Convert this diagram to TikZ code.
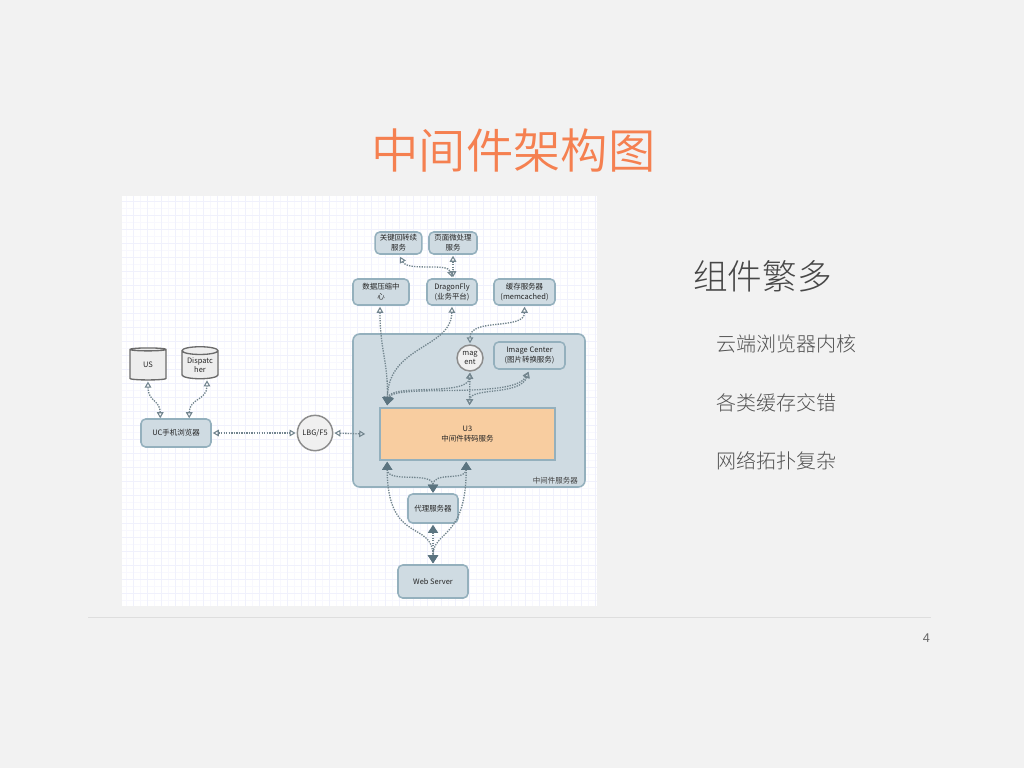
\documentclass[tikz,border=0pt]{standalone}
\usepackage{fontspec}
\setmainfont{Noto Sans CJK SC}
\newfontfamily\lightcjk{Noto Sans CJK SC Light}
\newfontfamily\demicjk{Noto Sans CJK SC DemiLight}
\newfontfamily\latinui{Liberation Sans}
\usetikzlibrary{arrows.meta,calc,shapes.geometric}
\definecolor{pagebg}{HTML}{F2F2F2}
\definecolor{titleorange}{HTML}{F58050}
\definecolor{gridc}{HTML}{F8F8FE}
\definecolor{gridm}{HTML}{F0F1FC}
\definecolor{boxfill}{HTML}{CFDBE2}
\definecolor{boxline}{HTML}{94B0BD}
\definecolor{peach}{HTML}{F8CDA0}
\definecolor{linkc}{HTML}{72858E}
\definecolor{tipc}{HTML}{5B7480}
\tikzset{
 x=0.75pt,y=-0.75pt,
 svcbox/.style={draw=boxline,fill=boxfill,line width=1.15pt,rounded corners=3.5pt,inner sep=0pt,align=center,font=\fontsize{5.6}{7.4}\selectfont,text=black!85},
 roundnode/.style={circle,draw=black!45,fill=black!6,line width=1.1pt,inner sep=0pt,align=center,font=\fontsize{5.6}{7}\selectfont,text=black!85},
 dbnode/.style={cylinder,shape border rotate=90,aspect=0.3,draw=black!58,fill=black!7,line width=1pt,inner sep=0pt,align=center,font=\fontsize{5.6}{7}\selectfont,text=black!85,minimum width=27pt,minimum height=24pt},
 linkbase/.style={draw=linkc,line width=1pt,dash pattern=on 1pt off .9pt},
 thinlink/.style={linkbase,{Triangle[open,length=4.5pt,width=5pt,line width=.8pt,color=linkc]}-{Triangle[open,length=4.5pt,width=5pt,line width=.8pt,color=linkc]}},
 heavyboth/.style={linkbase,{Triangle[length=6pt,width=7.5pt,color=tipc]}-{Triangle[length=6pt,width=7.5pt,color=tipc]}},
 openheavy/.style={linkbase,{Triangle[open,length=4.5pt,width=5pt,line width=.8pt,color=linkc]}-{Triangle[length=6pt,width=7.5pt,color=tipc]}},
 bullet/.style={anchor=west,font=\lightcjk\fontsize{15}{17}\selectfont,text=black!68,inner sep=0pt},
}
\begin{document}
\begin{tikzpicture}
\useasboundingbox (0,0) rectangle (1024,768);
\fill[pagebg] (0,0) rectangle (1024,768);
% screenshot background with grid
\fill[white] (122,196) rectangle (597,606);
\begin{scope}
\clip (122,196) rectangle (597,606);
\foreach \gx in {0,...,68} \draw[gridc,line width=.5pt] ({126.5+7*\gx},196) -- ({126.5+7*\gx},606);
\foreach \gy in {0,...,59} \draw[gridc,line width=.5pt] (122,{201+7*\gy}) -- (597,{201+7*\gy});
\foreach \gx in {0,...,34} \draw[gridm,line width=.6pt] ({133.5+14*\gx},196) -- ({133.5+14*\gx},606);
\foreach \gy in {0,...,29} \draw[gridm,line width=.6pt] (122,{201+14*\gy}) -- (597,{201+14*\gy});
\end{scope}
% texts of the slide
\node[font=\demicjk\fontsize{35.5}{40}\selectfont,text=titleorange,inner sep=0pt] (title) at (513.5,151) {中间件架构图};
\node[anchor=west,font=\lightcjk\fontsize{26}{30}\selectfont,text=black!72,inner sep=0pt] (head) at (693,276) {组件繁多};
\node[bullet] (b1) at (716,344) {云端浏览器内核};
\node[bullet] (b2) at (716,403) {各类缓存交错};
\node[bullet] (b3) at (716,461) {网络拓扑复杂};
\coordinate (ruleL) at (88,617);
\coordinate (ruleR) at (931,617);
\draw[black!13,line width=.75pt] (ruleL) -- (ruleR);
\node[font=\latinui\fontsize{9.5}{11}\selectfont,text=black!60,inner sep=0pt] (pageno) at (926.5,638) {4};
% container
\node[svcbox,rounded corners=5pt,minimum width=174pt,minimum height=114.75pt,line width=1.2pt] (mid) at (469,410.5) {};
\node[anchor=south east,font=\fontsize{5.6}{7}\selectfont,text=black!75,inner sep=0pt] (midlabel) at (578,484) {中间件服务器};
% services
\node[svcbox,minimum width=35pt,minimum height=16.5pt] (key) at (398.5,243) {关键回转续\\服务};
\node[svcbox,minimum width=36pt,minimum height=16.5pt] (page) at (453,243) {页面微处理\\服务};
\node[svcbox,minimum width=42pt,minimum height=19.5pt] (data) at (381,292) {数据压缩中\\心};
\node[svcbox,minimum width=37.5pt,minimum height=19.5pt] (dragon) at (452,292) {DragonFly\\(业务平台)};
\node[svcbox,minimum width=45.75pt,minimum height=19.5pt] (cache) at (524.5,292) {缓存服务器\\(memcached)};
\node[roundnode,minimum size=19.5pt] (magent) at (470,358) {mag\\ent};
\node[svcbox,minimum width=53.25pt,minimum height=20.25pt] (image) at (529.5,355.5) {Image Center\\(图片转换服务)};
\node[svcbox,draw=boxline,fill=peach,rounded corners=0pt,minimum width=131.25pt,minimum height=39pt,line width=1.2pt] (u3) at (467.5,434) {U3\\中间件转码服务};
\node[svcbox,minimum width=37.5pt,minimum height=21.75pt] (proxy) at (433,508.5) {代理服务器};
\node[svcbox,minimum width=52.5pt,minimum height=24.75pt] (web) at (433,581.5) {Web Server};
\node[dbnode] (us) at (148,365) {US};
\node[dbnode] (disp) at (200,365) {Dispatc\\her};
\node[svcbox,minimum width=52.5pt,minimum height=21pt] (uc) at (176,433) {UC手机浏览器};
\node[roundnode,minimum size=26.5pt] (lbg) at (315,433) {LBG/F5};
\coordinate (u3in) at ($(u3.west)+(-14,0)$);
% connectors, left part
\draw[thinlink] ($(uc.north west)+(20,0)$) .. controls +(0,-18) and +(0,20) .. ($(us.south)+(0,1)$);
\draw[thinlink] ($(uc.north west)+(49,0)$) .. controls +(0,-20) and +(0,20) .. ($(disp.south)+(7,1)$);
\draw[thinlink] ($(uc.east)+(1,0)$) -- ($(lbg.west)+(-1,0)$);
\draw[thinlink] ($(lbg.east)+(1,0)$) -- (u3in);
% upper part
\draw[thinlink] ($(key.south)+(1.5,2)$) .. controls +(8,15) and +(-4,-15) .. ($(dragon.north)+(0,-1)$);
\draw[thinlink] ($(page.south)+(0,1)$) -- ($(dragon.north)+(1,-1)$);
\draw[openheavy] ($(data.south)+(-1,1)$) .. controls +(0,45) and +(1,-45) .. ($(u3.north west)+(8,-2)$);
\draw[openheavy] ($(dragon.south)+(0,1)$) .. controls +(-1,42) and +(1,-60) .. ($(u3.north west)+(8,-2)$);
\draw[thinlink] ($(cache.south)+(0,1)$) .. controls +(0,24) and +(0,-26) .. ($(magent.north)+(0,-1)$);
\draw[openheavy] ($(magent.south)+(0,1)$) .. controls +(-3,24) and +(3,-22) .. ($(u3.north west)+(8,-2)$);
\draw[openheavy] ($(image.south)+(-1,2)$) .. controls +(-15,28) and +(5,-22) .. ($(u3.north west)+(8,-2)$);
\draw[thinlink] ($(magent.south)+(0,1)$) -- ($(u3.north)+(2,-2)$);
\draw[thinlink] ($(image.south)+(-1,2)$) .. controls +(-8,24) and +(1,-18) .. ($(u3.north)+(2,-2)$);
% lower part
\draw[heavyboth] ($(u3.south west)+(8,1)$) .. controls +(0,22) and +(0,-22) .. ($(proxy.north)+(0,-0.5)$);
\draw[heavyboth] ($(u3.south west)+(87,1)$) .. controls +(0,20) and +(0,-22) .. ($(proxy.north)+(0,-0.5)$);
\draw[heavyboth] ($(proxy.south)+(0,1)$) -- ($(web.north)+(0,-1)$);
\draw[heavyboth] ($(u3.south west)+(8,1)$) .. controls +(0,83) and +(0,-43) .. ($(web.north)+(0,-1)$);
\draw[heavyboth] ($(u3.south west)+(87,1)$) .. controls +(0,78) and +(0,-33) .. ($(web.north)+(0,-1)$);
\end{tikzpicture}
\end{document}
